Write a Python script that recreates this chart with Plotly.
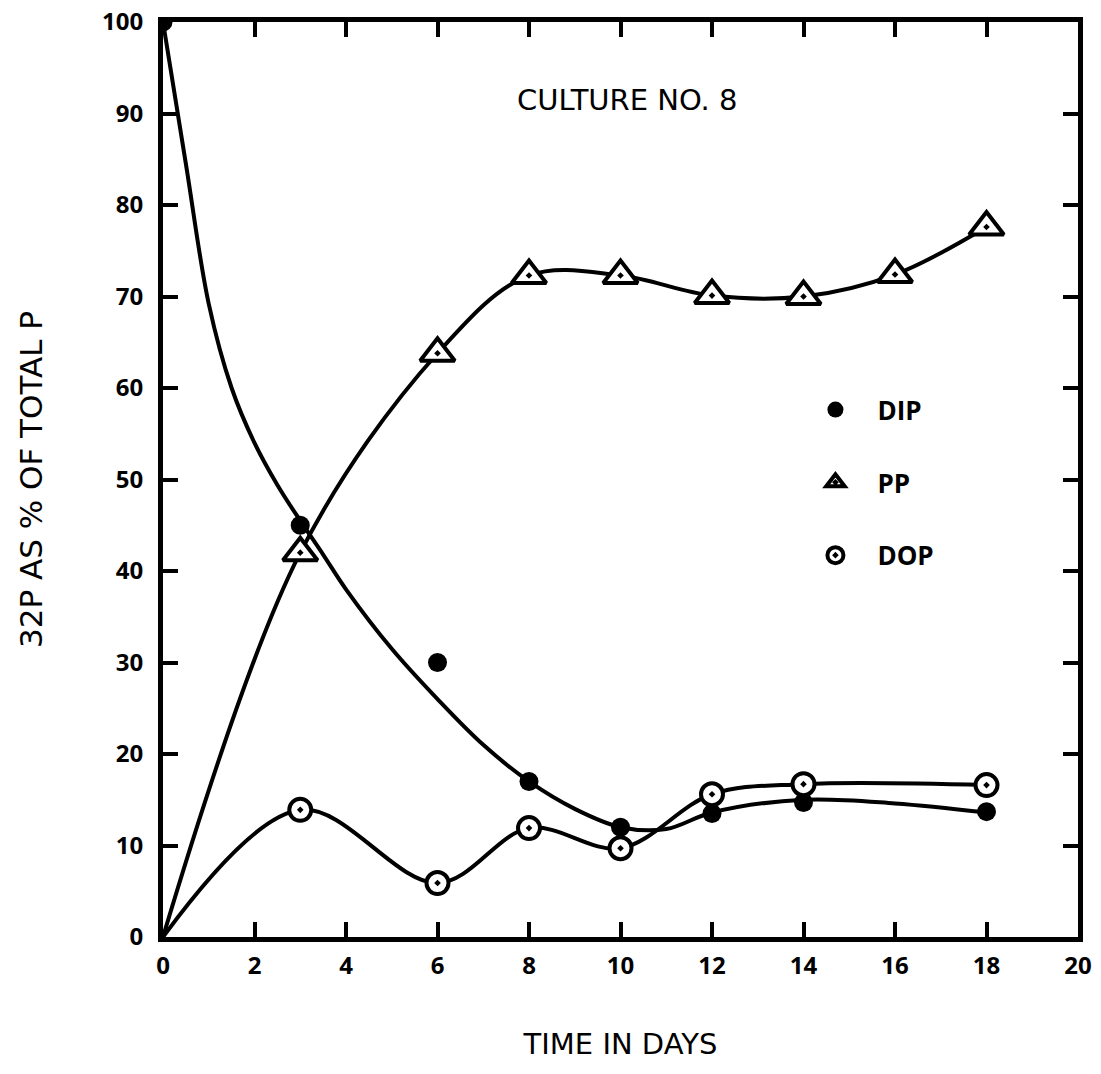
import plotly.graph_objects as go

# ---- data ----
dip_days = [0, 3, 6, 8, 10, 12, 14, 18]
dip_values = [100, 45, 30, 17, 12, 13.5, 14.7, 13.7]

pp_days = [3, 6, 8, 10, 12, 14, 16, 18]
pp_values = [42, 63.8, 72.3, 72.3, 70.1, 70, 72.4, 77.6]

dop_days = [3, 6, 8, 10, 12, 14, 18]
dop_values = [13.9, 5.9, 11.9, 9.7, 15.6, 16.7, 16.6]

# curves start at the origin (no marker drawn there)
origin_day = [0]
origin_value = [0]

# hand-drawn fitted curve for DIP (does not pass through every point)
dip_curve_days = [0, 0.5, 1, 1.5, 2, 2.5, 3, 3.5, 4, 5, 6, 7, 8, 9, 10, 11, 12, 14, 16, 18]
dip_curve_values = [100, 84.5, 69.2, 60, 54, 49.4, 45.5, 41.8, 38, 31.5, 26, 21, 17, 14, 12,
                    11.8, 13.6, 15, 14.6, 13.6]

x_ticks = [0, 2, 4, 6, 8, 10, 12, 14, 16, 18, 20]
y_ticks = [0, 10, 20, 30, 40, 50, 60, 70, 80, 90, 100]

x_title = "TIME IN DAYS"
y_title = "32P AS % OF TOTAL P"
panel_label = "CULTURE NO. 8"

# ---- figure ----
TICK_FONT = "Open Sans"
TEXT_FONT = "DejaVu Sans"
fig = go.Figure()

line_style = dict(color="black", width=4, shape="spline", smoothing=1.0)

fig.add_trace(go.Scatter(x=dip_curve_days, y=dip_curve_values, mode="lines",
                         line=line_style, showlegend=False, hoverinfo="skip"))
fig.add_trace(go.Scatter(x=origin_day + pp_days, y=origin_value + pp_values, mode="lines",
                         line=line_style, showlegend=False, hoverinfo="skip"))
fig.add_trace(go.Scatter(x=origin_day + dop_days, y=origin_value + dop_values, mode="lines",
                         line=line_style, showlegend=False, hoverinfo="skip"))

fig.add_trace(go.Scatter(x=dip_days, y=dip_values, mode="markers", name="DIP",
                         legendgroup="dip",
                         marker=dict(symbol="circle", size=19, color="black")))
fig.add_trace(go.Scatter(x=pp_days, y=pp_values, mode="markers", name="PP",
                         legendgroup="pp",
                         marker=dict(symbol="triangle-up-dot", size=30, color="white",
                                     line=dict(color="black", width=4))))
fig.add_trace(go.Scatter(x=dop_days, y=dop_values, mode="markers", name="DOP",
                         legendgroup="dop",
                         marker=dict(symbol="circle-dot", size=22, color="white",
                                     line=dict(color="black", width=4))))

fig.add_annotation(x=10.15, y=91.5, xref="x", yref="y", text=panel_label, showarrow=False,
                   font=dict(family=TEXT_FONT, size=29, color="black"))

axis_common = dict(showline=True, linecolor="black", linewidth=5, mirror="ticks",
                   ticks="inside", ticklen=15, tickwidth=4, tickcolor="black",
                   showgrid=False, zeroline=False,
                   tickfont=dict(family=TICK_FONT, size=24, color="black", weight="bold"))

fig.update_xaxes(range=[0, 20], tickvals=x_ticks, ticktext=[str(v) for v in x_ticks],
                 ticklabelstandoff=3,
                 title=dict(text=x_title, standoff=55,
                            font=dict(family=TEXT_FONT, size=29, color="black")),
                 **axis_common)
fig.update_yaxes(range=[0, 100], tickvals=y_ticks, ticktext=[str(v) for v in y_ticks],
                 ticklabelstandoff=10,
                 title=dict(text=y_title, standoff=52,
                            font=dict(family=TEXT_FONT, size=31, color="black")),
                 **axis_common)

fig.update_layout(
    width=1101, height=1074,
    margin=dict(l=163, r=23, t=22, b=137, autoexpand=False),
    paper_bgcolor="white", plot_bgcolor="white",
    showlegend=True,
    legend=dict(x=0.689, y=0.602, xanchor="left", yanchor="top",
                bgcolor="rgba(0,0,0,0)", tracegroupgap=36, itemsizing="trace",
                itemwidth=74,
                font=dict(family=TICK_FONT, size=26, color="black", weight="bold")),
)

fig.write_html("out.html")
